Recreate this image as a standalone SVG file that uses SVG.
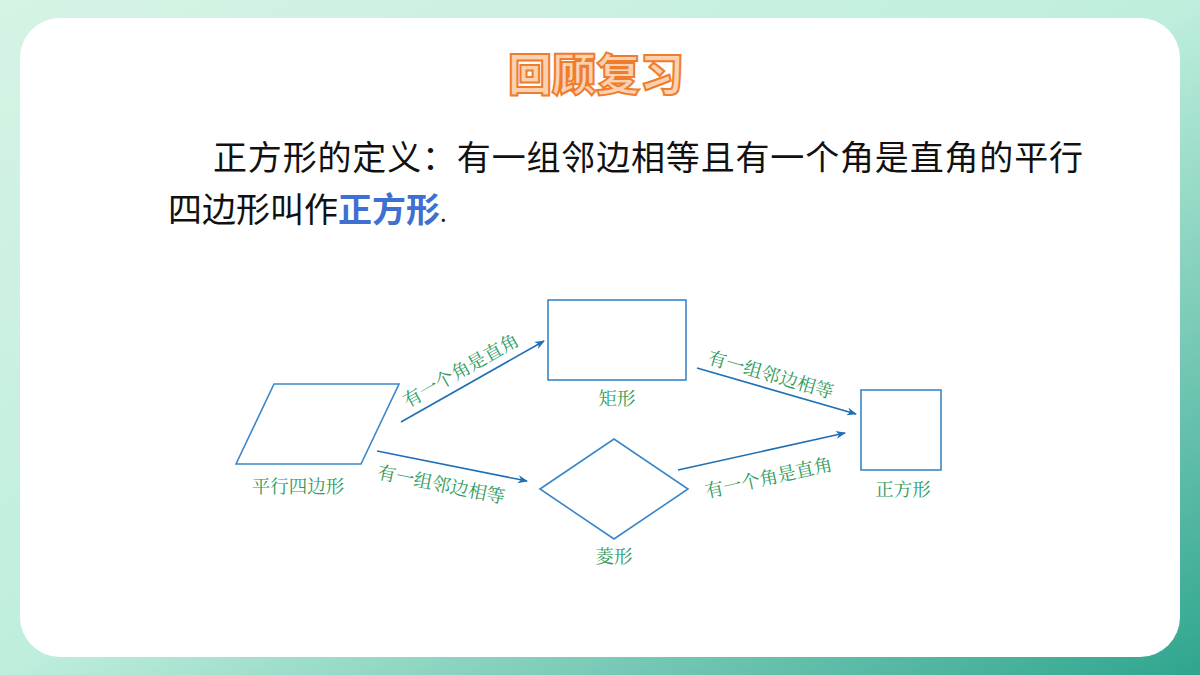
<svg xmlns="http://www.w3.org/2000/svg" width="1200" height="675" viewBox="0 0 1200 675">
<defs>
<linearGradient id="bg" x1="0" y1="0" x2="1" y2="1">
<stop offset="0" stop-color="#d6f3e4"/><stop offset="0.5" stop-color="#bfeedd"/><stop offset="1" stop-color="#2fa58e"/>
</linearGradient>
<marker id="ah" markerWidth="10" markerHeight="8" refX="9" refY="4" orient="auto" markerUnits="userSpaceOnUse"><path d="M0,0 L10,4 L0,8 L3,4 Z" fill="#1f6fb5"/></marker>
<style>
.shape{fill:none;stroke:#3a86c8;stroke-width:1.6}
.lbl{font-family:"Noto Serif CJK SC","Noto Sans CJK SC",serif;font-size:18.5px;fill:#2f9a5a;text-anchor:middle}
.cn{stroke:#1f6fb5;stroke-width:1.6;fill:none;marker-end:url(#ah)}
.body{font-family:"Noto Sans CJK SC",sans-serif;font-size:34px;fill:#111}
</style>
</defs>
<rect width="1200" height="675" fill="url(#bg)"/>
<rect x="20" y="18" width="1160" height="639" rx="40" fill="#fff"/>
<text x="596" y="91" text-anchor="middle" font-family="Noto Sans CJK SC,sans-serif" font-weight="900" font-size="44" fill="#fbd2b0" stroke="#ef7d2d" stroke-width="2">回顾复习</text>
<text class="body" x="213" y="170" textLength="870">正方形的定义：有一组邻边相等且有一个角是直角的平行</text>
<text class="body" x="168" y="222">四边形叫作<tspan fill="#3f6fd0" font-weight="bold">正方形</tspan><tspan font-size="24">.</tspan></text>
<g id="n-parallelogram"><polygon class="shape" points="236,464 274,384 399,384 361,464"/><text class="lbl" x="298" y="493">平行四边形</text></g>
<g id="n-rectangle"><rect class="shape" x="548" y="300" width="138" height="80"/><text class="lbl" x="617" y="405">矩形</text></g>
<g id="n-rhombus"><polygon class="shape" points="540,489 614,439 688,489 614,539"/><text class="lbl" x="614" y="563">菱形</text></g>
<g id="n-square"><rect class="shape" x="861" y="390" width="80" height="80"/><text class="lbl" x="903" y="496">正方形</text></g>
<g id="connectors">
<line class="cn" x1="401" y1="422" x2="544" y2="341"/>
<line class="cn" x1="377" y1="451" x2="527" y2="481"/>
<line class="cn" x1="697" y1="368" x2="856" y2="414"/>
<line class="cn" x1="678" y1="470" x2="845" y2="433"/>
<text class="lbl" transform="translate(464,376) rotate(-29.5)">有一个角是直角</text>
<text class="lbl" transform="translate(440,491) rotate(11.3)">有一组邻边相等</text>
<text class="lbl" transform="translate(769,381) rotate(16)">有一组邻边相等</text>
<text class="lbl" transform="translate(770,484) rotate(-12.5)">有一个角是直角</text>
</g>
</svg>
